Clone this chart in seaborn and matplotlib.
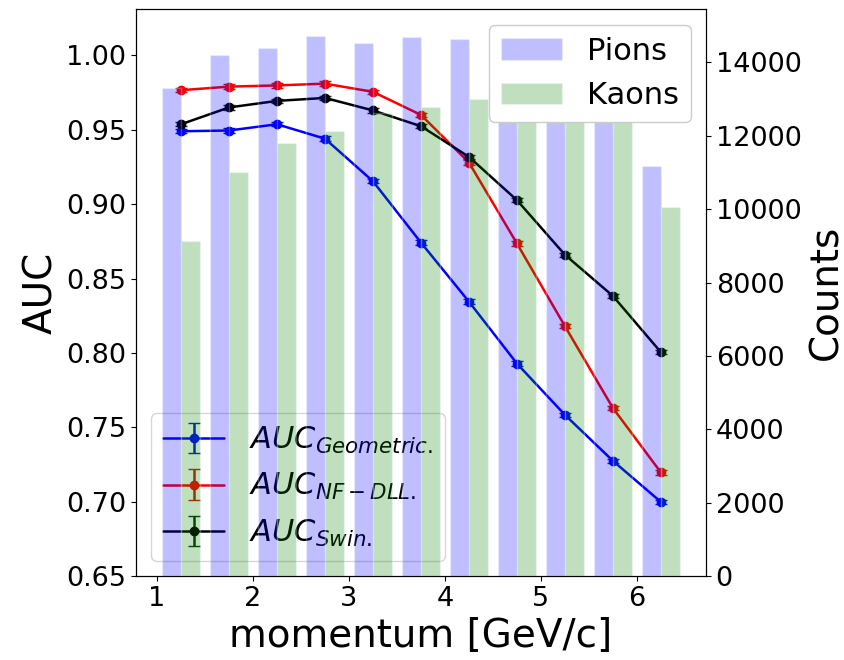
import numpy as np
import matplotlib
matplotlib.use("Agg")
import matplotlib.pyplot as plt
import seaborn as sns

# momentum bin centres [GeV/c]
momentum = np.array([1.25, 1.75, 2.25, 2.75, 3.25, 3.75, 4.25, 4.75, 5.25, 5.75, 6.25])

# AUC per bin
auc_geometric = [0.949, 0.9495, 0.9537, 0.944, 0.9154, 0.8742, 0.8345, 0.7929, 0.7584, 0.7275, 0.6999]
auc_nf_dll = [0.9766, 0.979, 0.9798, 0.981, 0.9755, 0.960, 0.928, 0.8736, 0.818, 0.763, 0.7197]
auc_swin = [0.9537, 0.965, 0.9694, 0.9714, 0.963, 0.9524, 0.9318, 0.9027, 0.866, 0.8383, 0.8005]
auc_err = [0.0015] * 11

# counts per bin
pions = [13310, 14190, 14390, 14710, 14520, 14680, 14630, 14500, 14100, 13300, 11180]
kaons = [9125, 11005, 11800, 12120, 12630, 12780, 13010, 12800, 12700, 12400, 10060]

sns.set_style("ticks", {'axes.edgecolor': 'black', 'text.color': 'black',
                        'axes.labelcolor': 'black', 'xtick.color': 'black',
                        'ytick.color': 'black'})
plt.rcParams['font.family'] = ['DejaVu Sans']

fig = plt.figure(figsize=(8.44, 6.6), dpi=100)
ax1 = fig.add_axes([0.161, 0.127, 0.6755, 0.859])

ax1.errorbar(momentum, auc_geometric, yerr=auc_err, fmt='o-', color='blue', ecolor='#0020b0',
             capsize=4, markersize=6, linewidth=1.8, label=r'$AUC_{Geometric.}$')
ax1.errorbar(momentum, auc_nf_dll, yerr=auc_err, fmt='o-', color='red', ecolor='#c02000',
             capsize=4, markersize=6, linewidth=1.8, label=r'$AUC_{NF-DLL.}$')
ax1.errorbar(momentum, auc_swin, yerr=auc_err, fmt='o-', color='black', ecolor='#103010',
             capsize=4, markersize=6, linewidth=1.8, label=r'$AUC_{Swin.}$')
ax1.set_ylim(0.65, 1.031)
ax1.set_xlabel('momentum [GeV/c]', fontsize=28)
ax1.set_ylabel('AUC', fontsize=28)
ax1.tick_params(labelsize=19.5)
ax1.legend(loc='lower left', fontsize=22)

ax2 = ax1.twinx()
sns.barplot(x=momentum - 0.1, y=pions, native_scale=True, width=0.4, color='blue', alpha=0.25,
            saturation=1, label='Pions', ax=ax2)
sns.barplot(x=momentum + 0.1, y=kaons, native_scale=True, width=0.4, color='green', alpha=0.25,
            saturation=1, label='Kaons', ax=ax2)
ax2.set_xlim(0.78, 6.72)
ax2.set_ylim(0, 15450)
ax2.set_ylabel('Counts', fontsize=28)
ax2.tick_params(labelsize=19.5)
leg = ax2.legend(loc='upper right', fontsize=22, framealpha=1, facecolor='white')
leg.set_zorder(10)
ax1.set_xticks([1, 2, 3, 4, 5, 6])
ax1.set_xlim(0.78, 6.72)

fig.savefig('out.png', dpi=100)
